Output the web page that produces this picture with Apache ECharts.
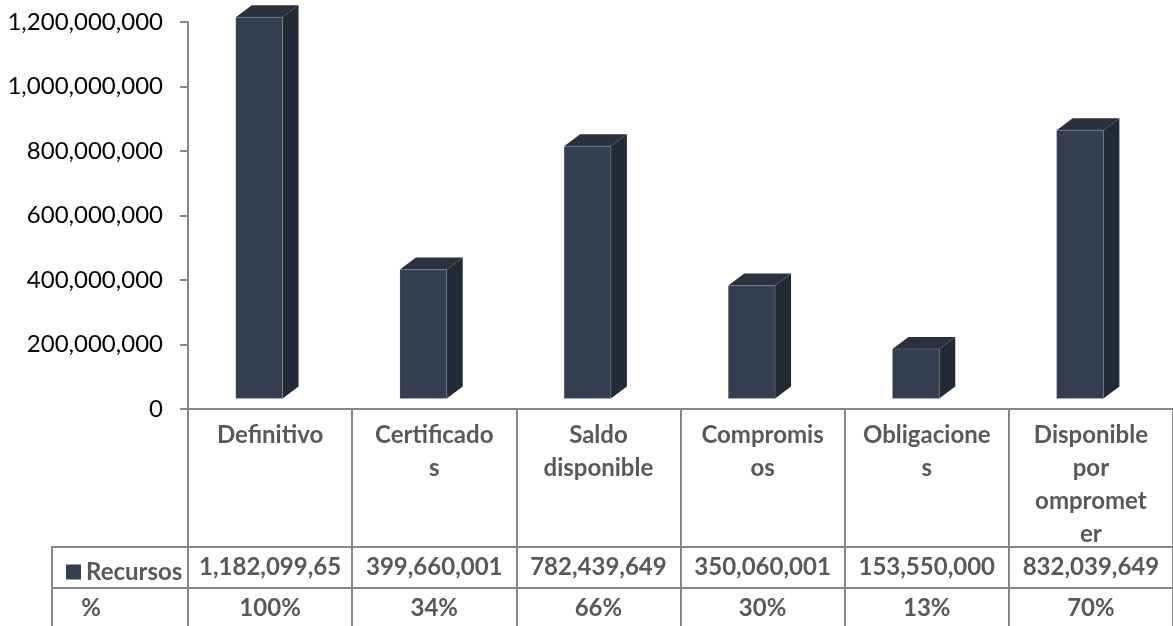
<!DOCTYPE html>
<html>
<head>
<meta charset="utf-8">
<script src="https://cdn.jsdelivr.net/npm/echarts@6/dist/echarts.min.js"></script>
<style>
  html, body { margin: 0; padding: 0; background: #ffffff; }
  #chart { width: 1173px; height: 626px; }
</style>
</head>
<body>
<div id="chart"></div>
<script>
// ---- data ----
const categories = ['Definitivo', 'Certificados', 'Saldo disponible', 'Compromisos', 'Obligaciones', 'Disponible por omprometer'];
const categoryLabels = ['Definitivo', 'Certificado\ns', 'Saldo\ndisponible', 'Compromis\nos', 'Obligacione\ns', 'Disponible\npor\nompromet\ner'];
const seriesName = 'Recursos';
const recursos = [1182099650, 399660001, 782439649, 350060001, 153550000, 832039649];
const recursosText = ['1,182,099,65', '399,660,001', '782,439,649', '350,060,001', '153,550,000', '832,039,649'];
const percentText = ['100%', '34%', '66%', '30%', '13%', '70%'];
const percentHeader = '%';
const yMin = 0, yMax = 1200000000, yStep = 200000000;

// ---- style ----
const FONT = 'Lato';
const LINE = '#878787';
const TXT = '#595959';
const FRONT = '#333e50';
const SIDE = '#222a35';
const TOP = '#28313e';

const chart = echarts.init(document.getElementById('chart'), null, { renderer: 'canvas' });

const gridLeft = 188, gridTop = 22, gridH = 387, colW = 165;

function fmt(v) {
  return v.toString().replace(/\B(?=(\d{3})+(?!\d))/g, ',');
}

const option = {
  animation: false,
  backgroundColor: '#ffffff',
  textStyle: { fontFamily: FONT },
  legend: {
    data: [seriesName],
    left: 61,
    top: 555,
    icon: 'rect',
    itemWidth: 15,
    itemHeight: 15,
    textStyle: { fontFamily: FONT, fontSize: 24, fontWeight: 'bold', color: TXT },
    selectedMode: false
  },
  grid: { left: gridLeft, top: gridTop, width: colW * categories.length, height: gridH },
  xAxis: [
    {
      type: 'category',
      data: categoryLabels,
      boundaryGap: true,
      axisLine: { show: true, lineStyle: { color: LINE, width: 2 } },
      axisTick: { show: true, alignWithLabel: false, length: 217, lineStyle: { color: LINE, width: 2 } },
      axisLabel: {
        interval: 0, margin: 10, fontFamily: FONT, fontSize: 24, fontWeight: 'bold',
        color: TXT, lineHeight: 33, align: 'center', verticalAlign: 'top'
      },
      splitLine: { show: false }
    },
    {
      type: 'category',
      data: recursosText,
      position: 'bottom',
      offset: 138,
      boundaryGap: true,
      axisLine: { show: true, lineStyle: { color: LINE, width: 2 } },
      axisTick: { show: false },
      axisLabel: { interval: 0, margin: 8, fontFamily: FONT, fontSize: 24, fontWeight: 'bold', color: TXT, verticalAlign: 'top', lineHeight: 24 }
    },
    {
      type: 'category',
      data: percentText,
      position: 'bottom',
      offset: 179,
      boundaryGap: true,
      axisLine: { show: true, lineStyle: { color: LINE, width: 2 } },
      axisTick: { show: false },
      axisLabel: { interval: 0, margin: 8, fontFamily: FONT, fontSize: 24, fontWeight: 'bold', color: TXT, verticalAlign: 'top', lineHeight: 24 }
    }
  ],
  yAxis: {
    type: 'value',
    min: yMin, max: yMax, interval: yStep,
    axisLine: { show: true, lineStyle: { color: LINE, width: 2 } },
    axisTick: { show: true, length: 8, lineStyle: { color: LINE, width: 2 } },
    splitLine: { show: false },
    axisLabel: { margin: 25, fontFamily: FONT, fontSize: 24, color: '#000000', formatter: v => fmt(v) }
  },
  series: [{
    name: seriesName,
    type: 'custom',
    xAxisIndex: 0,
    yAxisIndex: 0,
    itemStyle: { color: FRONT },
    data: recursos.map((v, i) => [i, v]),
    encode: { x: 0, y: 1 },
    renderItem: function (params, api) {
      const top = api.coord([api.value(0), api.value(1)]);
      const base = api.coord([api.value(0), 0]);
      const bw = api.size([1, 0])[0];
      const lift = 10.5;
      const x0 = base[0] - bw * 0.209;
      const x1 = x0 + bw * 0.285;
      const dx = 16, dy = 12;
      const yb = base[1] - lift, yt = top[1] - lift;
      return {
        type: 'group',
        children: [
          { type: 'polygon', shape: { points: [[x1, yt], [x1 + dx, yt - dy], [x1 + dx, yb - dy], [x1, yb]] }, style: { fill: SIDE } },
          { type: 'polygon', shape: { points: [[x0, yt], [x0 + dx, yt - dy], [x1 + dx, yt - dy], [x1, yt]] }, style: { fill: TOP } },
          { type: 'rect', shape: { x: x0, y: yt, width: x1 - x0, height: yb - yt }, style: { fill: FRONT, stroke: 'rgba(255,255,255,0.25)', lineWidth: 0.6 } }
        ]
      };
    }
  }],
  graphic: [
    { type: 'line', shape: { x1: 52, y1: 547, x2: gridLeft, y2: 547 }, style: { stroke: LINE, lineWidth: 2 } },
    { type: 'line', shape: { x1: 52, y1: 588, x2: gridLeft, y2: 588 }, style: { stroke: LINE, lineWidth: 2 } },
    { type: 'line', shape: { x1: 52, y1: 546, x2: 52, y2: 626 }, style: { stroke: LINE, lineWidth: 2 } },
    { type: 'text', x: 91, y: 608, style: { text: percentHeader, font: 'bold 24px Lato', fill: TXT, align: 'center', verticalAlign: 'middle' } }
  ]
};

chart.setOption(option);
</script>
</body>
</html>
